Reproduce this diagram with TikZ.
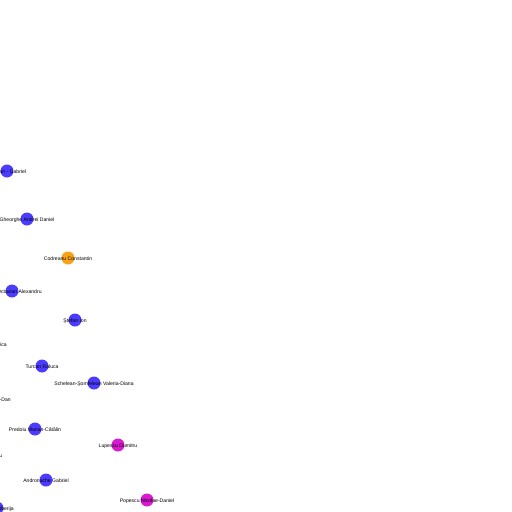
\documentclass[tikz,border=0pt]{standalone}
\usepackage{fontspec}
\setmainfont{Liberation Sans}
\definecolor{nblue}{HTML}{4B3CFF}
\definecolor{norange}{HTML}{F7A21B}
\definecolor{nmag}{HTML}{D81AD0}
\begin{document}
\begin{tikzpicture}[x=1pt,y=-1pt,
  vtx/.style={circle,inner sep=0pt,minimum size=13pt,fill=#1},
  lbl/.style={inner sep=0pt,yshift=-0.8pt,font=\fontsize{5.1}{6}\selectfont,text=black}]
\useasboundingbox (0,0) rectangle (512,512);
\fill[white] (0,0) rectangle (512,512);
\node[vtx=nblue] (n1) at (7,171) {};
\node[vtx=nblue] (n2) at (27,219) {};
\node[vtx=norange] (n3) at (68,258) {};
\node[vtx=nblue] (n4) at (12,291) {};
\node[vtx=nblue] (n5) at (75,320) {};
\node[vtx=nblue] (n7) at (42,366) {};
\node[vtx=nblue] (n8) at (94,383) {};
\node[vtx=nblue] (n10) at (35,429) {};
\node[vtx=nmag] (n11) at (118,445) {};
\node[vtx=nblue] (n13) at (46,480) {};
\node[vtx=nmag] (n14) at (147,500) {};
\node[vtx=nblue] (n15) at (-3,508) {};
\node[lbl] (l1) at (n1) {Cristian - Gabriel};
\node[lbl] (l2) at (n2) {Gheorghe Andrei Daniel};
\node[lbl] (l3) at (n3) {Codreanu Constantin};
\node[lbl] (l4) at (n4) {Mihail Octavian Alexandru};
\node[lbl] (l5) at (n5) {Ştefan Ion};
\node[lbl,anchor=east] (l6) at (7,344) {Ana-Maria Erica};
\node[lbl] (l7) at (n7) {Turcan Raluca};
\node[lbl] (l8) at (n8) {Schelean-Şomfelean Valeria-Diana};
\node[lbl,anchor=east] (l9) at (11,399) {Ionuţ-Dan};
\node[lbl] (l10) at (n10) {Predoiu Marian-Cătălin};
\node[lbl] (l11) at (n11) {Lupescu Dumitru};
\node[lbl,anchor=east] (l12) at (2.5,455) {Dumitru};
\node[lbl] (l13) at (n13) {Andronache Gabriel};
\node[lbl] (l14) at (n14) {Popescu Nicolae-Daniel};
\node[lbl,anchor=east] (l15) at (14,508) {Ljiberija};
\end{tikzpicture}
\end{document}
